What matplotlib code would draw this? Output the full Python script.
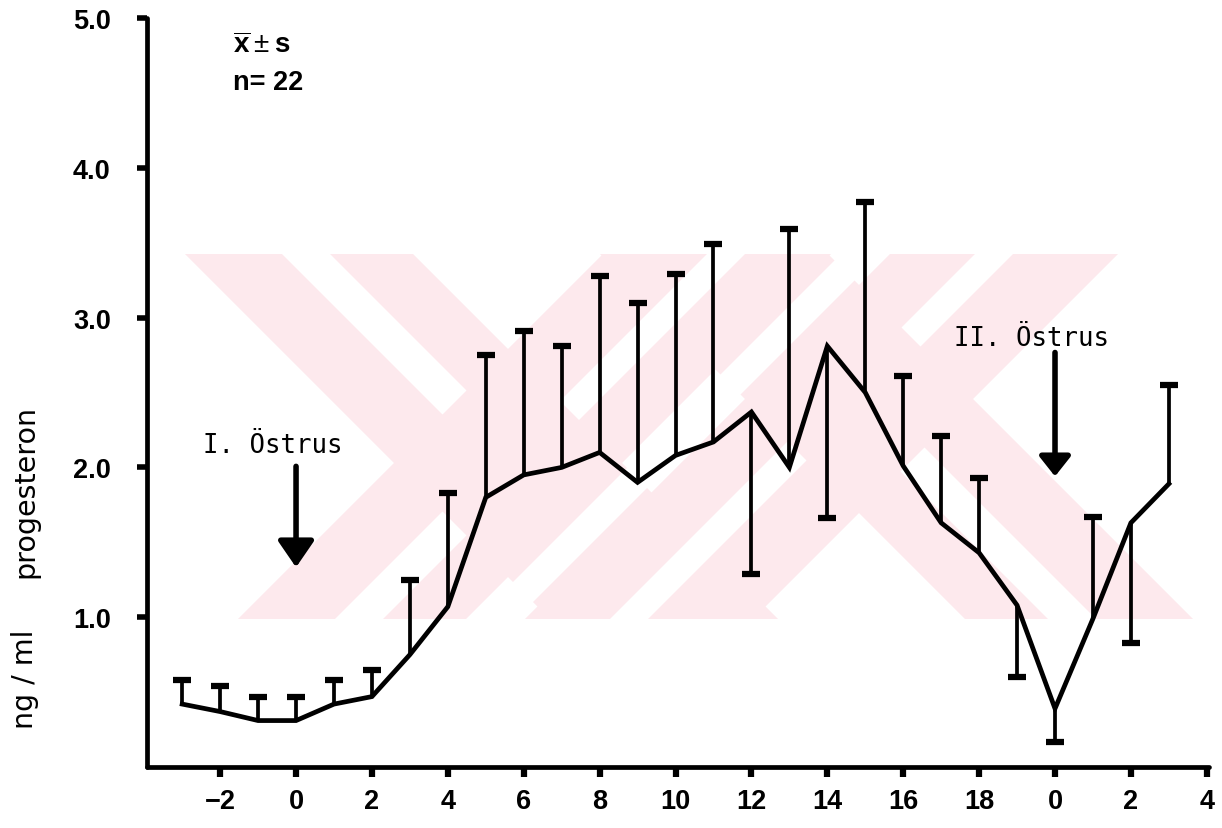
import numpy as np
import matplotlib.pyplot as plt
from matplotlib.patches import Polygon

# progesterone (ng/ml), x̄ ± s, n = 22
# day index: -3..19 first cycle, 20..23 = day 0..3 of the second cycle
day_pos = np.arange(-3, 24)
prog_mean = [0.42, 0.37, 0.31, 0.31, 0.42, 0.47, 0.75, 1.07, 1.80, 1.95,
             2.00, 2.10, 1.90, 2.08, 2.17, 2.37, 2.00, 2.81, 2.50, 2.01,
             1.63, 1.43, 1.08, 0.39, 0.99, 1.63, 1.89]
# end of the one-sided s bar (above or below the mean)
bar_end = [0.58, 0.54, 0.47, 0.47, 0.58, 0.65, 1.25, 1.83, 2.75, 2.91,
           2.81, 3.28, 3.10, 3.29, 3.49, 1.29, 3.59, 1.66, 3.77, 2.61,
           2.21, 1.93, 0.60, 0.17, 1.67, 0.83, 2.55]

xtick_pos = np.arange(-2, 25, 2)
xtick_lab = ['\u22122', '0', '2', '4', '6', '8', '10', '12', '14', '16', '18',
             '0', '2', '4']
ytick_pos = [1, 2, 3, 4, 5]
ytick_lab = ['1.0', '2.0', '3.0', '4.0', '5.0']

plt.rcParams['font.family'] = ['Liberation Sans', 'DejaVu Sans']
plt.rcParams['mathtext.fontset'] = 'custom'
plt.rcParams['mathtext.rm'] = 'Liberation Sans'
plt.rcParams['mathtext.bf'] = 'Liberation Sans:bold'

W, H = 1222, 829
fig = plt.figure(figsize=(W / 100, H / 100), dpi=100)
ax = fig.add_axes([146.9 / W, 1 - 768 / H, (1208.7 - 146.9) / W, 749 / H])
ax.set_facecolor('none')
ax.set_zorder(1)

# ---- faint background watermark (two striped X shapes), pixel coords ----
pink = '#fde9ed'
TOP, BOT = 255, 620
INF = 1e4


def para(kind, c1, c2, lo=-INF, hi=INF):
    # 45 degree strip between two parallel lines, clipped to TOP..BOT
    # 'back': lines x - y = c, 'fwd': lines x + y = c
    # lo/hi limit the other diagonal coordinate
    pts = []
    for c, rev in ((c1, False), (c2, True)):
        if kind == 'back':
            a, b = max(lo, c + 2 * TOP), min(hi, c + 2 * BOT)
            seg = [((s + c) / 2, (s - c) / 2) for s in (a, b)]
        else:
            a, b = max(lo, c - 2 * BOT), min(hi, c - 2 * TOP)
            seg = [((c + d) / 2, (c - d) / 2) for d in (a, b)]
        pts += seg[::-1] if rev else seg
    return pts


def put(pts, color, z):
    fpts = [(x / W, 1 - y / H) for x, y in pts]
    fig.add_artist(Polygon(fpts, closed=True, facecolor=color, edgecolor='none',
                           transform=fig.transFigure, zorder=z))


arms = [('back', -70, 158), ('fwd', 858, 1086),
        ('fwd', 1145, 1373), ('back', 345, 573)]
for kind, c1, c2 in arms:
    put(para(kind, c1, c2), pink, 0)

stripes = [('back', 27, 75, -INF, 858),
           ('fwd', 955, 1003, -INF, -70),
           ('fwd', 962, 1000, 158, INF),
           ('fwd', 1230, 1268, 573, INF),
           ('fwd', 1230, 1268, -INF, 345),
           ('back', 428, 476, 1373, INF),
           ('fwd', 1096, 1136, -INF, INF)]
for kind, c1, c2, lo, hi in stripes:
    put(para(kind, c1, c2, lo, hi), 'white', 0.1)

# ---- data ----
ax.vlines(day_pos, prog_mean, bar_end, color='black', lw=2.7, zorder=3)
ax.plot(day_pos, bar_end, ls='none', marker='_', ms=13, mew=4.5,
        color='black', zorder=3)
ax.plot(day_pos, prog_mean, color='black', lw=3.4, solid_joinstyle='miter',
        zorder=4)

ax.set_xlim(-3.93, 24.05)
ax.set_ylim(0, 5.0)

for side in ['top', 'right']:
    ax.spines[side].set_visible(False)
for side in ['left', 'bottom']:
    ax.spines[side].set_linewidth(3.4)
    ax.spines[side].set_capstyle('round')

ax.set_xticks(xtick_pos)
ax.set_xticklabels(xtick_lab)
ax.set_yticks(ytick_pos)
ax.set_yticklabels(ytick_lab)
ax.tick_params(axis='x', length=7, width=4.5, pad=8, labelsize=19.5)
ax.tick_params(axis='y', length=7, width=4, pad=19, labelsize=19.5)
for lab in ax.get_xticklabels() + ax.get_yticklabels():
    lab.set_fontweight('bold')

# y label in two pieces
fig.text(25 / W, 1 - 492 / H, 'progesteron', rotation=90, ha='center',
         va='center', fontsize=20.5, family='DejaVu Sans')
fig.text(25 / W, 1 - 679 / H, 'ng / ml', rotation=90, ha='center',
         va='center', fontsize=20.5, family='DejaVu Sans')

# statistics note
ax.text(-1.66, 4.773, r'$\overline{\mathbf{x}}\pm\mathbf{s}$', fontsize=20,
        ha='left', va='baseline')
ax.text(-1.66, 4.527, 'n= 22', fontsize=19.5, fontweight='bold',
        ha='left', va='baseline')

# oestrus markers
ax.text(-0.61, 2.10, 'I. Östrus', fontsize=18.5, family='DejaVu Sans Mono',
        ha='center', va='baseline')
ax.annotate('', xy=(0, 1.333), xytext=(0, 2.007),
            arrowprops=dict(arrowstyle='-|>,head_length=1.6,head_width=1.1',
                            mutation_scale=10, lw=4, color='black',
                            shrinkA=0, shrinkB=0))
ax.text(19.39, 2.82, 'II. Östrus', fontsize=18.5, family='DejaVu Sans Mono',
        ha='center', va='baseline')
ax.annotate('', xy=(20, 1.94), xytext=(20, 2.767),
            arrowprops=dict(arrowstyle='-|>,head_length=1.2,head_width=0.95',
                            mutation_scale=10, lw=4, color='black',
                            shrinkA=0, shrinkB=0))

fig.savefig('out.png', dpi=100, facecolor='white')
